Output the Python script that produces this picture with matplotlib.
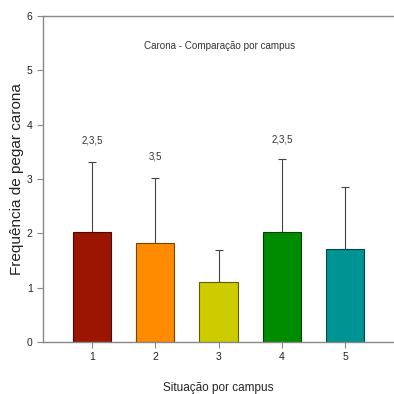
import matplotlib as mplt
mplt.use("Agg")
import matplotlib.pyplot as plt

plt.rcParams['font.family'] = ['Liberation Sans', 'DejaVu Sans']

# mean frequency per campus situation, with upward SD error bars
situations = [1, 2, 3, 4, 5]
means = [2.02, 1.83, 1.11, 2.03, 1.71]
sds = [1.29, 1.19, 0.58, 1.33, 1.15]
group_labels = ['2,3,5', '3,5', '', '2,3,5', '']
label_heights = [3.70, 3.42, 0, 3.72, 0]

bar_colors = ['#9c1500', '#ff8c00', '#cccc00', '#008c00', '#009393']
edge_colors = ['#4a0a00', '#7a4300', '#5e5e00', '#004000', '#004848']

fig = plt.figure(figsize=(3.94, 3.94), dpi=100)
ax = fig.add_axes([43 / 394, 52 / 394, 1 - 43 / 394, 326 / 394])

ax.bar(situations, means, width=0.6, color=bar_colors, edgecolor=edge_colors,
       linewidth=0.8, zorder=2)
ax.errorbar(situations, means, yerr=[[0] * len(sds), sds], fmt='none',
            ecolor='#444444', elinewidth=0.8, capsize=3, capthick=0.8, zorder=1)

for x, txt, h in zip(situations, group_labels, label_heights):
    if txt:
        ax.text(x, h, txt, ha='center', va='center', fontsize=7, color='#333333')

ax.text(3.02, 5.44, 'Carona - Comparação por campus', ha='center', va='center',
        fontsize=7.1, color='#333333')

ax.set_xlim(0.23, 5.77)
ax.set_ylim(0, 6)
ax.set_xticks(situations)
ax.set_yticks(range(0, 7))
ax.tick_params(axis='both', labelsize=7.5, colors='#888888', labelcolor='#222222',
               length=4, width=0.8)

for side in ['left', 'top', 'bottom']:
    ax.spines[side].set_color('#888888')
    ax.spines[side].set_linewidth(1.0)
ax.spines['right'].set_visible(False)

ax.set_xlabel('Situação por campus', fontsize=8.5, color='#222222', labelpad=14)
ax.set_ylabel('Frequência de pegar carona', fontsize=11, color='#222222')
ax.yaxis.set_label_coords(-0.055, 0.5)

fig.savefig('out.png', dpi=100)
